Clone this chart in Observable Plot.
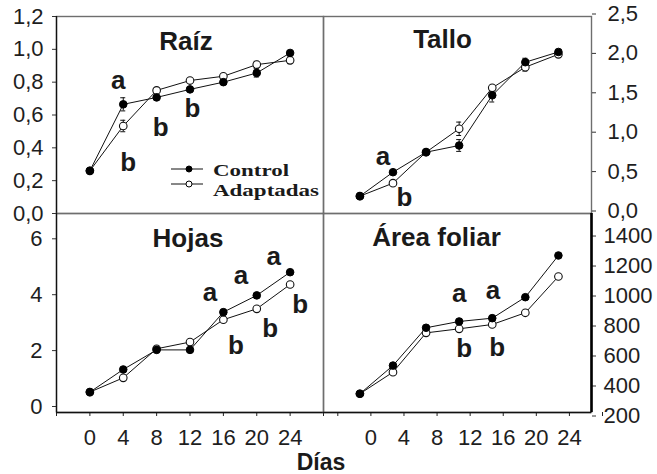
<!DOCTYPE html>
<html><head><meta charset="utf-8">
<script src="https://cdn.jsdelivr.net/npm/d3@7"></script>
<script src="https://cdn.jsdelivr.net/npm/@observablehq/plot@0.6"></script>
<style>
body{margin:0;background:#fff;}
#wrap{position:relative;width:657px;height:474px;font-family:"Liberation Sans",Arial,sans-serif;overflow:hidden;}
#wrap > .p{position:absolute;}
</style></head><body><div id="wrap"></div>
<script>
// ---- data ----
const days = [0, 4, 8, 12, 16, 20, 24];
const seriesNames = ["Control", "Adaptadas"];

const raizControl = [0.26, 0.665, 0.707, 0.756, 0.80, 0.856, 0.978];
const raizAdapt   = [0.26, 0.533, 0.75, 0.81, 0.836, 0.907, 0.933];
const raizErrC    = [0, 0.04, 0.01, 0.01, 0.01, 0.025, 0.015];
const raizErrA    = [0, 0.035, 0.01, 0.01, 0.01, 0.02, 0.02];

const talloControl = [0.22, 0.524, 0.778, 0.863, 1.50, 1.92, 2.05];
const talloAdapt   = [0.22, 0.385, 0.778, 1.075, 1.595, 1.857, 2.02];
const talloErrC    = [0, 0.02, 0.02, 0.075, 0.085, 0.05, 0.02];
const talloErrA    = [0, 0.02, 0.02, 0.085, 0.03, 0.05, 0.02];

const hojasControl = [0.73, 1.54, 2.24, 2.24, 3.59, 4.19, 5.02];
const hojasAdapt   = [0.73, 1.24, 2.28, 2.52, 3.32, 3.71, 4.58];

const areaControl = [325, 513, 765, 807, 829, 969, 1247];
const areaAdapt   = [325, 469, 731, 758, 787, 865, 1107];

const titles = ["Raíz", "Tallo", "Hojas", "Área foliar"];

const raizLetters = [
  {day: 3.4, value: 0.81, label: "a"}, {day: 4.6, value: 0.31, label: "b"},
  {day: 8.5, value: 0.52, label: "b"}, {day: 12.3, value: 0.64, label: "b"}];
const talloLetters = [
  {day: 2.8, value: 0.72, label: "a"}, {day: 5.4, value: 0.20, label: "b"}];
const hojasLetters = [
  {day: 14.4, value: 4.30, label: "a"}, {day: 18.1, value: 4.90, label: "a"}, {day: 22.05, value: 5.56, label: "a"},
  {day: 17.5, value: 2.40, label: "b"}, {day: 21.6, value: 2.99, label: "b"}, {day: 25.2, value: 3.86, label: "b"}];
const areaLetters = [
  {day: 12.0, value: 991, label: "a"}, {day: 16.1, value: 1013, label: "a"},
  {day: 12.6, value: 625, label: "b"}, {day: 16.6, value: 635, label: "b"}];

const dayTicks = [-4, 0, 4, 8, 12, 16, 20, 24, 28];
const comma1 = d => d.toFixed(1).replace(".", ",");

// ---- drawing ----
const wrap = document.getElementById("wrap");

function panel(cfg) {
  const zeros = days.map(() => 0);
  const errC = cfg.errC || zeros, errA = cfg.errA || zeros;
  const rows = days.flatMap((d, i) => [
    {day: d, value: cfg.control[i], err: errC[i], series: seriesNames[0]},
    {day: d, value: cfg.adapt[i], err: errA[i], series: seriesNames[1]}
  ]);
  const errRows = rows.filter(r => r.err > 0);
  const ctrl = rows.filter(r => r.series === "Control");
  const adpt = rows.filter(r => r.series === "Adaptadas");
  const marks = [
    Plot.frame({stroke: "#6e6e6e", strokeWidth: 1.4}),
    Plot.axisY({anchor: cfg.yAnchor, ticks: cfg.yTicks, tickFormat: cfg.fmt, tickSize: 4,
      tickPadding: cfg.yPad, label: null, dy: cfg.yDy || 0, fill: "#1e1e1e", stroke: "#333"}),
  ];
  if (cfg.xAxis) {
    marks.push(Plot.axisX({ticks: dayTicks, tickFormat: d => (d < 0 || d > 24) ? "" : String(d),
      tickSize: 4, tickPadding: 13, label: null, dx: cfg.xDx || 0, fill: "#1e1e1e", stroke: "#222"}));
    marks.push(Plot.ruleY([cfg.yDomain[0]], {stroke: "#111", strokeWidth: 1.3}));
  }
  if (cfg.leftLine) marks.push(Plot.ruleX([cfg.xDomain[0]], {stroke: "#111", strokeWidth: 1.3}));
  if (cfg.rightLine) marks.push(Plot.ruleX([cfg.xDomain[1]], {stroke: "#000", strokeWidth: 2.6}));
  marks.push(
    Plot.line(adpt, {x: "day", y: "value", stroke: "#111", strokeWidth: 1}),
    Plot.line(ctrl, {x: "day", y: "value", stroke: "#111", strokeWidth: 1}),
    Plot.ruleX(errRows, {x: "day", y1: d => d.value - d.err, y2: d => d.value + d.err, stroke: "#111", strokeWidth: 1}),
    Plot.ruleY(errRows, {y: d => d.value + d.err, x1: d => d.day - 0.3, x2: d => d.day + 0.3, stroke: "#111", strokeWidth: 1}),
    Plot.ruleY(errRows, {y: d => d.value - d.err, x1: d => d.day - 0.3, x2: d => d.day + 0.3, stroke: "#111", strokeWidth: 1}),
    Plot.dot(adpt, {x: "day", y: "value", r: 3.8, fill: "white", stroke: "#111", strokeWidth: 1.1}),
    Plot.dot(ctrl, {x: "day", y: "value", r: 3.8, fill: "#000", stroke: "#000", strokeWidth: 1}),
    Plot.text(cfg.letters, {x: "day", y: "value", text: "label", fontSize: 26, fontWeight: "bold", fill: "#1a1a1a"}),
    Plot.text([cfg.title], {frameAnchor: "top", dx: cfg.tdx, dy: cfg.tdy, fontSize: 26, fontWeight: "bold", fill: "#1a1a1a"})
  );
  const svg = Plot.plot({
    width: cfg.width, height: cfg.height,
    marginLeft: cfg.ml, marginRight: cfg.mr, marginTop: cfg.mt, marginBottom: cfg.mb,
    x: {domain: cfg.xDomain, axis: cfg.xAxis ? undefined : null},
    y: {domain: cfg.yDomain},
    style: {background: "transparent", overflow: "visible", fontFamily: "Liberation Sans, Arial, sans-serif", fontSize: "22px"},
    marks
  });
  const holder = document.createElement("div");
  holder.className = "p";
  holder.style.left = cfg.left + "px";
  holder.style.top = cfg.top + "px";
  holder.appendChild(svg);
  wrap.appendChild(holder);
}

const leftDomain = [-4, 28];
const rightDomain = [-4.4, 28];

panel({left: 0, top: 0, width: 325, height: 220, ml: 56, mr: 2, mt: 16, mb: 7,
  xDomain: leftDomain, yDomain: [0, 1.2], yTicks: [0, 0.2, 0.4, 0.6, 0.8, 1.0, 1.2], fmt: comma1,
  yAnchor: "left", yPad: 9, leftLine: true,
  control: raizControl, adapt: raizAdapt, errC: raizErrC, errA: raizErrA,
  letters: raizLetters, title: titles[0], tdx: -4, tdy: 15});

panel({left: 323, top: 0, width: 334, height: 220, ml: 0, mr: 66, mt: 16, mb: 7,
  xDomain: rightDomain, yDomain: [0, 2.5], yTicks: [0, 0.5, 1.0, 1.5, 2.0, 2.5], fmt: comma1,
  yAnchor: "right", yPad: 12, yDy: -2.5,
  control: talloControl, adapt: talloAdapt, errC: talloErrC, errA: talloErrA,
  letters: talloLetters, title: titles[1], tdx: -15, tdy: 13});

panel({left: 0, top: 200, width: 325, height: 274, ml: 56, mr: 2, mt: 13, mb: 62,
  xDomain: leftDomain, yDomain: [0, 7.12], yTicks: [0, 2, 4, 6], fmt: d => String(d),
  yAnchor: "left", yPad: 10, yDy: -6, leftLine: true, xAxis: true,
  control: hojasControl, adapt: hojasAdapt,
  letters: hojasLetters, title: titles[2], tdx: -2, tdy: 15});

panel({left: 323, top: 200, width: 334, height: 274, ml: 0, mr: 66, mt: 13, mb: 62,
  xDomain: rightDomain, yDomain: [200, 1527], yTicks: [200, 400, 600, 800, 1000, 1200, 1400], fmt: d => String(d),
  yAnchor: "right", yPad: 8, yDy: 3.5, rightLine: true, xAxis: true, xDx: 11,
  control: areaControl, adapt: areaAdapt,
  letters: areaLetters, title: titles[3], tdx: -21, tdy: 14});

// ---- legend and shared x label ----
const ns = "http://www.w3.org/2000/svg";
const ov = document.createElementNS(ns, "svg");
ov.setAttribute("width", 657); ov.setAttribute("height", 474);
ov.style.position = "absolute"; ov.style.left = "0"; ov.style.top = "0"; ov.style.pointerEvents = "none";
function el(tag, attrs, text) {
  const e = document.createElementNS(ns, tag);
  for (const k in attrs) e.setAttribute(k, attrs[k]);
  if (text) e.textContent = text;
  ov.appendChild(e);
  return e;
}
const legendLen = [76, 106];
seriesNames.forEach((name, i) => {
  const y = 169 + i * 15;
  el("line", {x1: 171, x2: 203, y1: y, y2: y, stroke: "#111", "stroke-width": 1});
  el("circle", {cx: 189, cy: y, r: 3, fill: i === 0 ? "#000" : "#fff", stroke: "#000", "stroke-width": 1});
  el("text", {x: 213, y: 176 + i * 20, "font-family": "Liberation Serif, Times New Roman, serif",
    "font-size": 17.5, "font-weight": "bold", fill: "#1a1a1a",
    textLength: legendLen[i], lengthAdjust: "spacingAndGlyphs"}, name);
});
el("text", {x: 321, y: 470, "text-anchor": "middle", "font-family": "Liberation Sans, Arial, sans-serif",
  "font-size": 23, "font-weight": "bold", fill: "#1a1a1a"}, "Días");
wrap.appendChild(ov);
</script></body></html>
